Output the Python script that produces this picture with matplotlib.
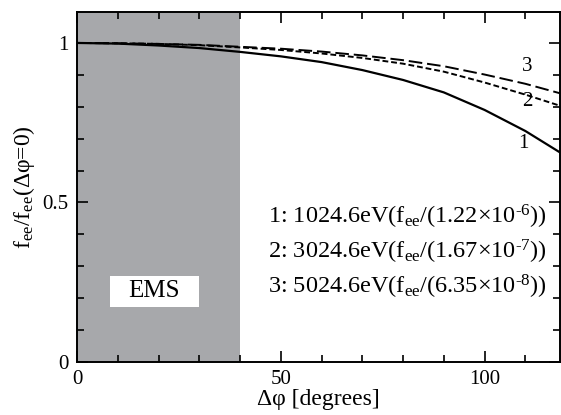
import matplotlib.pyplot as plt
from matplotlib.patches import Rectangle

plt.rcParams['font.family'] = ['Liberation Serif', 'DejaVu Serif']
plt.rcParams['mathtext.fontset'] = 'custom'
plt.rcParams['mathtext.rm'] = 'Liberation Serif'
plt.rcParams['mathtext.it'] = 'Liberation Serif:italic'

# data
phi = [0, 10, 20, 30, 40, 50, 60, 70, 80, 90, 100, 110, 120]
f1 = [1.0, 0.998, 0.992, 0.984, 0.972, 0.958, 0.940, 0.915, 0.884, 0.845, 0.790, 0.724, 0.645]
f2 = [1.0, 0.999, 0.997, 0.993, 0.986, 0.978, 0.967, 0.953, 0.935, 0.910, 0.876, 0.838, 0.797]
f3 = [1.0, 0.999, 0.997, 0.994, 0.988, 0.982, 0.973, 0.961, 0.946, 0.927, 0.901, 0.872, 0.837]
ems_end = 40
legend_lines = [
    r'1: 1024.6eV(f$_{\rm ee}$/(1.22$\times$10$^{\text{-6}}$))',
    r'2: 3024.6eV(f$_{\rm ee}$/(1.67$\times$10$^{\text{-7}}$))',
    r'3: 5024.6eV(f$_{\rm ee}$/(6.35$\times$10$^{\text{-8}}$))',
]

fig = plt.figure(figsize=(5.61, 4.15), dpi=100)
ax = fig.add_axes([77/561, 53/415, 483/561, 350/415])

ax.axvspan(0, ems_end, color='#a7a8ab', lw=0, zorder=0)
ax.plot(phi, f1, color='black', lw=1.6)
ax.plot(phi, f2, color='black', lw=1.4, dashes=(3, 1.5))
ax.plot(phi, f3, color='black', lw=1.4, dashes=(7, 2.5))

ax.set_xlim(0, 118.5)
ax.set_ylim(0, 1.097)

ax.set_xticks([0, 50, 100])
ax.set_xticklabels(['0', '50', '100'])
ax.set_xticks(range(0, 120, 10), minor=True)
ax.set_yticks([0, 0.5, 1])
ax.set_yticklabels(['0', '0.5', '1'])
ax.set_yticks([i / 10 for i in range(11)], minor=True)
ax.tick_params(which='both', direction='in', top=True, right=True, labelsize=15, width=1.2)
ax.tick_params(which='major', length=8, pad=6)
ax.tick_params(which='minor', length=5)
for s in ax.spines.values():
    s.set_linewidth(1.4)

ax.set_xlabel('Δφ [degrees]', fontsize=17, labelpad=0)
ax.set_ylabel(r'f$_{\rm ee}$/f$_{\rm ee}$(Δφ=0)', fontsize=17, labelpad=4)

ax.text(110.5, 0.925, '3', fontsize=15, ha='center', va='center')
ax.text(110.5, 0.815, '2', fontsize=15, ha='center', va='center')
ax.text(109.5, 0.685, '1', fontsize=15, ha='center', va='center')

for i, line in enumerate(legend_lines):
    ax.text(115.3, 0.455 - i * 0.11, line, fontsize=17.5, ha='right', va='center')

ax.add_patch(Rectangle((8.1, 0.173), 21.8, 0.095, facecolor='white', edgecolor='none', zorder=1))
ax.text(19, 0.224, 'EMS', fontsize=18, ha='center', va='center', zorder=2)

fig.savefig('out.png', dpi=100)
